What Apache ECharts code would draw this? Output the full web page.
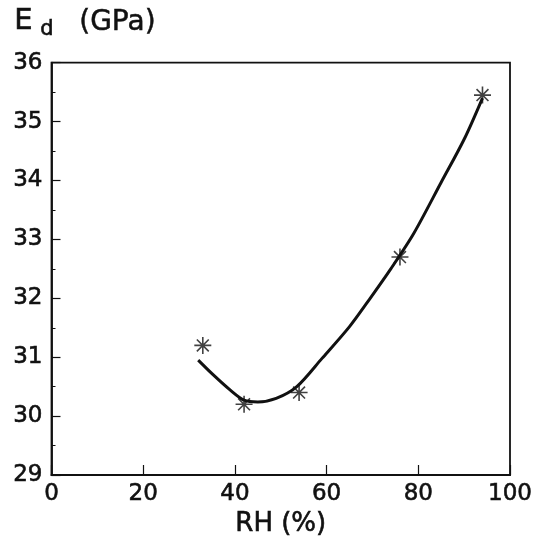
<!DOCTYPE html>
<html>
<head>
<meta charset="utf-8">
<script src="https://cdn.jsdelivr.net/npm/echarts@6/dist/echarts.min.js"></script>
<style>
  html, body { margin: 0; padding: 0; background: #fff; }
  #chart { width: 543px; height: 550px; }
</style>
</head>
<body>
<div id="chart"></div>
<script>
// measured points (asterisks)
var rhPoints = [33, 42, 54, 76, 94];
var edPoints = [31.2, 30.2, 30.4, 32.7, 35.45];

// fitted curve
var curveRH = [32, 35, 39, 42, 45, 49, 53.5, 59, 65, 69.5, 74, 79, 85, 90, 94];
var curveEd = [30.95, 30.72, 30.44, 30.27, 30.24, 30.3, 30.5, 30.98, 31.52, 32.0, 32.5, 33.1, 33.97, 34.7, 35.4];

var xTicks = [0, 20, 40, 60, 80, 100];
var yTicks = [29, 30, 31, 32, 33, 34, 35, 36];

var INK = '#111';
var FONT = '"DejaVu Sans", sans-serif';

var asterisk = 'path://M0,-1L0,1M-1,0L1,0M-0.7,-0.7L0.7,0.7M-0.7,0.7L0.7,-0.7';

function pairs(xs, ys) {
    return xs.map(function (x, i) { return [x, ys[i]]; });
}

// a thin outline makes the scanned-looking glyphs a little heavier
var heavy = { textBorderColor: INK, textBorderWidth: 0.6 };

var chart = echarts.init(document.getElementById('chart'), null, { renderer: 'canvas' });

chart.setOption({
    animation: false,
    backgroundColor: '#fff',
    graphic: [
        { type: 'text', left: 14, top: 7, style: { text: 'E', font: '29px ' + FONT, fill: INK, stroke: INK, lineWidth: 0.6 } },
        { type: 'text', left: 40, top: 19, style: { text: 'd', font: '21px ' + FONT, fill: INK, stroke: INK, lineWidth: 0.6 } },
        { type: 'text', left: 79, top: 8, style: { text: '(GPa)', font: '28px ' + FONT, fill: INK, stroke: INK, lineWidth: 0.5 } }
    ],
    grid: {
        left: 51.5,
        right: 33,
        top: 62.7,
        bottom: 75,
        show: true,
        borderColor: INK,
        borderWidth: 1.8,
        backgroundColor: 'transparent'
    },
    xAxis: {
        type: 'value',
        min: xTicks[0],
        max: xTicks[xTicks.length - 1],
        interval: 20,
        name: 'RH (%)',
        nameLocation: 'middle',
        nameGap: 36,
        nameTextStyle: Object.assign({ fontFamily: FONT, fontSize: 26, color: INK }, heavy),
        axisLine: { show: true, lineStyle: { color: INK, width: 1.8 } },
        axisTick: { show: true, inside: true, length: 10, lineStyle: { color: INK, width: 1.2 } },
        minorTick: { show: false },
        splitLine: { show: false },
        axisLabel: Object.assign({ fontFamily: FONT, fontSize: 23, color: INK, margin: 8 }, heavy)
    },
    yAxis: {
        type: 'value',
        min: yTicks[0],
        max: yTicks[yTicks.length - 1],
        interval: 1,
        axisLine: { show: true, lineStyle: { color: INK, width: 1.8 } },
        axisTick: { show: true, inside: true, length: 9, lineStyle: { color: INK, width: 1.2 } },
        minorTick: { show: true, splitNumber: 2, length: 4, lineStyle: { color: INK, width: 1 } },
        splitLine: { show: false },
        axisLabel: Object.assign({ fontFamily: FONT, fontSize: 23, color: INK, margin: 9 }, heavy)
    },
    series: [
        {
            name: 'fit',
            type: 'line',
            data: pairs(curveRH, curveEd),
            smooth: 0.3,
            showSymbol: false,
            symbol: 'none',
            lineStyle: { color: INK, width: 3 },
            z: 2
        },
        {
            name: 'measured',
            type: 'scatter',
            data: pairs(rhPoints, edPoints),
            symbol: asterisk,
            symbolSize: 17,
            itemStyle: { color: 'none', borderColor: INK, borderWidth: 1.6 },
            z: 3
        }
    ]
});
</script>
</body>
</html>
